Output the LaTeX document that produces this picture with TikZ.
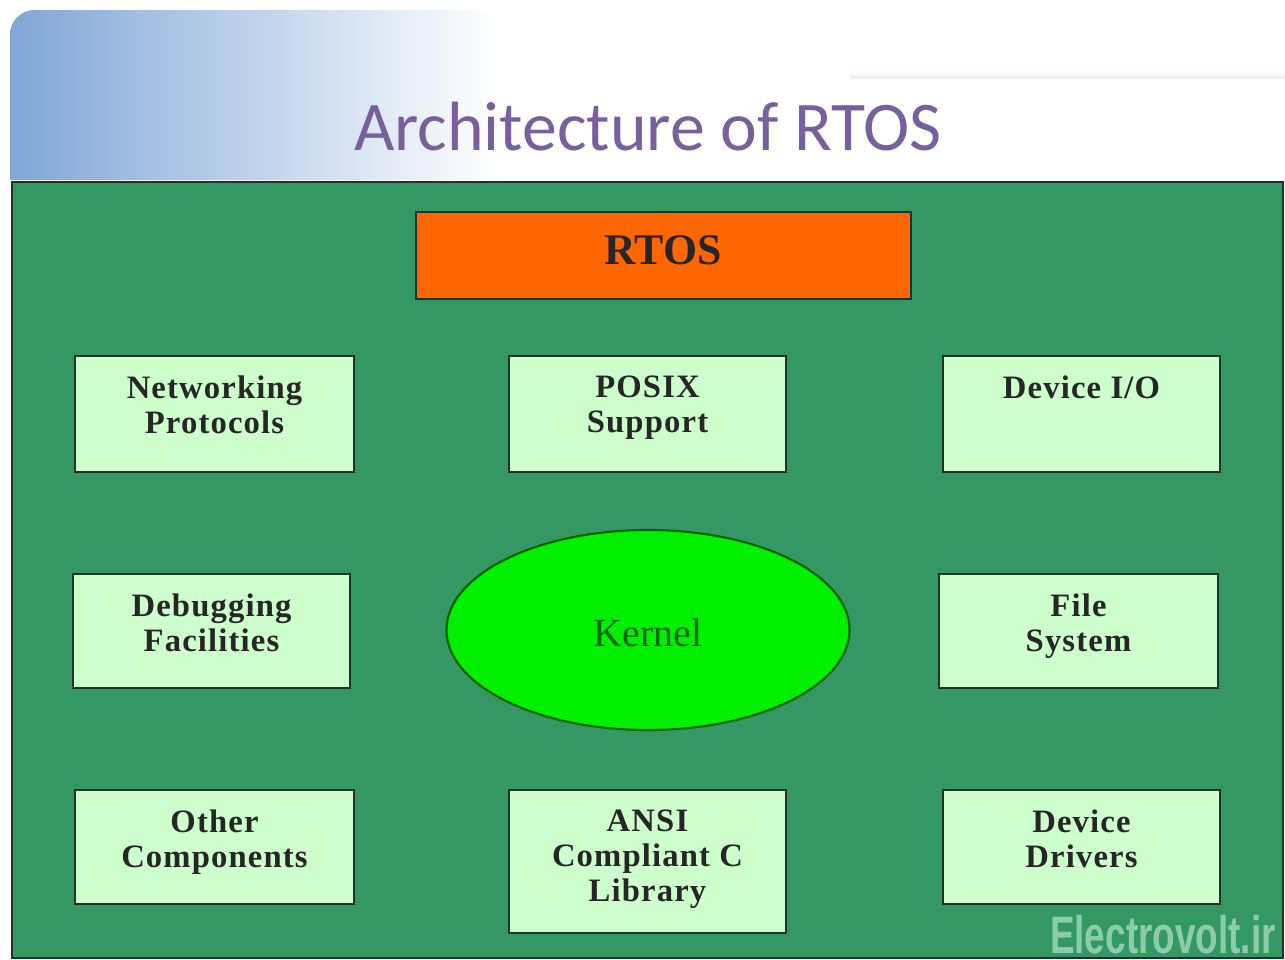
\documentclass[tikz,border=0pt]{standalone}
\usepackage{fontspec}
\setmainfont{Liberation Serif}
\newfontfamily\titlefont{Carlito}
\newfontfamily\wmfont[FakeStretch=0.7]{Liberation Sans}
\newfontfamily\boxfont[LetterSpace=3.5]{Liberation Serif}
\usetikzlibrary{shapes.geometric,fit}
\definecolor{panelgreen}{RGB}{52,152,100}
\definecolor{boxgreen}{RGB}{204,255,204}
\definecolor{rtosorange}{RGB}{255,102,0}
\definecolor{kernelgreen}{RGB}{0,240,0}
\definecolor{kerneltext}{RGB}{0,100,0}
\definecolor{titlepurple}{RGB}{120,96,158}
\definecolor{edge}{RGB}{30,50,40}
\definecolor{headblue}{RGB}{128,166,214}
\definecolor{wmcolor}{RGB}{140,204,170}
\tikzset{
  x=0.02cm, y=-0.02cm,
  boxstyle/.style={draw=edge, line width=1.2pt, fill=boxgreen, inner sep=0pt},
  boxlabel/.style={anchor=north, align=center, inner sep=0pt,
    font=\boxfont\fontsize{18.6pt}{19.8pt}\selectfont\bfseries, text=black!85},
}
\begin{document}
\begin{tikzpicture}
\useasboundingbox (0,0) rectangle (1285,960);
\clip (0,0) rectangle (1285,960);
\fill[white] (0,0) rectangle (1285,960);
% header
\shade[left color=headblue, right color=white] (10,30) [rounded corners=14pt] -- (10,10) -- (500,10) [sharp corners] -- (500,180) -- (10,180) -- cycle;
\shade[top color=white, bottom color=red!30!gray!40, opacity=0.3] (850,72) rectangle (1285,78);
\node[font=\titlefont\fontsize{39.7pt}{40pt}\selectfont, text=titlepurple, anchor=base, inner sep=0pt] (title) at (648,150) {Architecture of RTOS};
% panel
\node[draw=edge, line width=1pt, fill=panelgreen, inner sep=0pt, fit={(12,182) (1283,958)}] (panel) {};
% RTOS
\node[draw=edge, line width=1.2pt, fill=rtosorange, inner sep=0pt, fit={(416,212) (911,299)}] (rtos) {};
\node[font=\fontsize{24.9pt}{26pt}\selectfont\bfseries, text=black!85, inner sep=0pt] (rtostext) at (663,250) {RTOS};
% boxes
\node[boxstyle, fit={(75,356) (354,472)}] (net) {};
\node[boxlabel] (nett) at ([yshift=-0.42cm]net.north) {Networking\\Protocols};
\node[boxstyle, fit={(509,356) (786,472)}] (posix) {};
\node[boxlabel] (posixt) at ([yshift=-0.42cm]posix.north) {POSIX\\Support};
\node[boxstyle, fit={(943,356) (1220,472)}] (dio) {};
\node[boxlabel] (diot) at ([yshift=-0.42cm]dio.north) {Device I/O};
\node[boxstyle, fit={(73,574) (350,688)}] (dbg) {};
\node[boxlabel] (dbgt) at ([yshift=-0.42cm]dbg.north) {Debugging\\Facilities};
\node[boxstyle, fit={(939,574) (1218,688)}] (fs) {};
\node[boxlabel] (fst) at ([yshift=-0.42cm]fs.north) {File\\System};
\node[boxstyle, fit={(75,790) (354,904)}] (oth) {};
\node[boxlabel] (otht) at ([yshift=-0.42cm]oth.north) {Other\\Components};
\node[boxstyle, fit={(509,790) (786,933)}] (ansi) {};
\node[boxlabel] (ansit) at ([yshift=-0.42cm]ansi.north) {ANSI\\Compliant C\\Library};
\node[boxstyle, fit={(943,790) (1220,904)}] (dd) {};
\node[boxlabel] (ddt) at ([yshift=-0.42cm]dd.north) {Device\\Drivers};
% kernel
\node[ellipse, draw=kerneltext, line width=1.2pt, fill=kernelgreen, minimum width=403*0.02cm, minimum height=200*0.02cm, inner sep=0pt] (kernel) at (648,630) {};
\node[font=\fontsize{22.7pt}{24pt}\selectfont, text=kerneltext, inner sep=0pt] (kernelt) at ([yshift=-0.06cm]kernel.center) {Kernel};
% watermark
\node[font=\wmfont\bfseries\fontsize{30pt}{30pt}\selectfont, text=wmcolor, anchor=base east, inner sep=0pt] (wm) at (1276,953) {Electrovolt.ir};
\end{tikzpicture}
\end{document}
